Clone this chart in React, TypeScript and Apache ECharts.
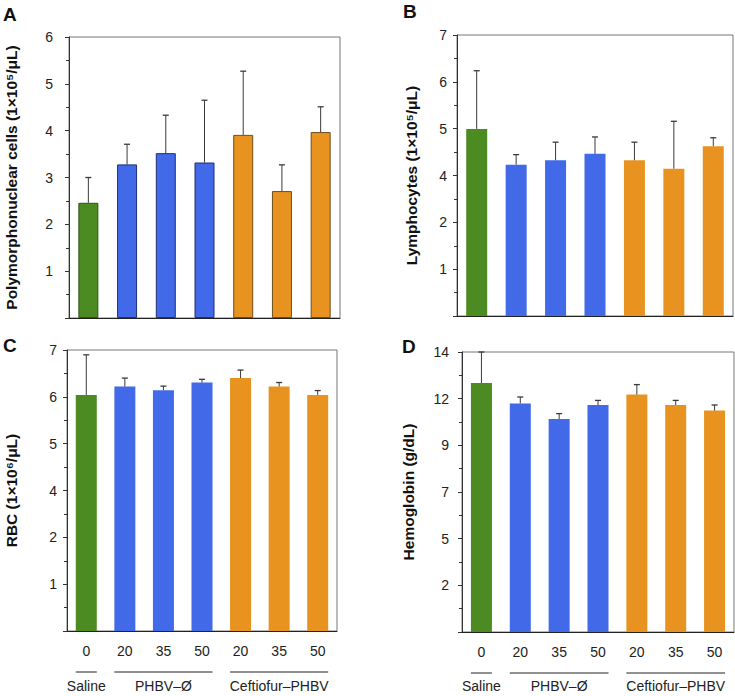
import React, { useEffect, useRef } from "react";
import * as echarts from "echarts";

// ---- data ----
const doseLabels = ["0", "20", "35", "50", "20", "35", "50"];
const barGroup = ["saline", "phbv", "phbv", "phbv", "ceft", "ceft", "ceft"];
const groupLabels = ["Saline", "PHBV–Ø", "Ceftiofur–PHBV"];
const groupStart = [0, 1, 4];
const groupEnd = [0, 3, 6];

const pmnMean = [2.46, 3.28, 3.52, 3.32, 3.91, 2.71, 3.97];
const pmnErr = [0.54, 0.43, 0.81, 1.33, 1.36, 0.56, 0.54];

const lymMean = [4.66, 3.77, 3.88, 4.04, 3.88, 3.67, 4.23];
const lymErr = [1.45, 0.25, 0.45, 0.42, 0.45, 1.18, 0.21];

const rbcMean = [5.88, 6.09, 6.0, 6.19, 6.3, 6.09, 5.88];
const rbcErr = [1.0, 0.21, 0.1, 0.08, 0.2, 0.1, 0.11];

const hbMean = [12.45, 11.43, 10.65, 11.35, 11.87, 11.35, 11.07];
const hbErr = [1.55, 0.32, 0.27, 0.23, 0.5, 0.23, 0.28];

const ticksA = ["", "1", "2", "3", "4", "5", "6"];
const ticksB = ["", "1", "2", "4", "5", "6", "7"];
const ticksC = ["", "1", "2", "4", "5", "6", "7"];
const ticksD = ["", "2", "5", "7", "9", "12", "14"];

const FONT = '"Liberation Sans", Arial, Helvetica, sans-serif';

const fillColors: Record<string, string> = {
  saline: "#4b8b22",
  phbv: "#4169e8",
  ceft: "#e8931f",
};
const borderColors: Record<string, string> = {
  saline: "#2c5512",
  phbv: "#1f2f78",
  ceft: "#6e4c1c",
};

type Panel = {
  letter: string;
  letterPos: [number, number];
  grid: { left: number; top: number; width: number; height: number };
  max: number;
  interval: number;
  ticks: string[];
  name: string;
  nameGap: number;
  labelMargin: number;
  mean: number[];
  err: number[];
  barWidth: number;
  bordered: boolean;
  showX: boolean;
};

const panels: Panel[] = [
  {
    letter: "A",
    letterPos: [3, 5],
    grid: { left: 69, top: 37, width: 271, height: 281 },
    max: 6,
    interval: 1,
    ticks: ticksA,
    name: "Polymorphonuclear cells (1×10⁵/μL)",
    nameGap: 50,
    labelMargin: 16,
    mean: pmnMean,
    err: pmnErr,
    barWidth: 20,
    bordered: true,
    showX: false,
  },
  {
    letter: "B",
    letterPos: [403, 2],
    grid: { left: 457, top: 35, width: 276, height: 281 },
    max: 7,
    interval: 7 / 6,
    ticks: ticksB,
    name: "Lymphocytes (1×10⁵/μL)",
    nameGap: 38,
    labelMargin: 10,
    mean: lymMean,
    err: lymErr,
    barWidth: 21,
    bordered: false,
    showX: false,
  },
  {
    letter: "C",
    letterPos: [3, 336],
    grid: { left: 67, top: 350, width: 270, height: 281 },
    max: 7,
    interval: 7 / 6,
    ticks: ticksC,
    name: "RBC (1×10⁶/μL)",
    nameGap: 48,
    labelMargin: 10,
    mean: rbcMean,
    err: rbcErr,
    barWidth: 21,
    bordered: false,
    showX: true,
  },
  {
    letter: "D",
    letterPos: [402, 337],
    grid: { left: 462, top: 352, width: 272, height: 280 },
    max: 14,
    interval: 14 / 6,
    ticks: ticksD,
    name: "Hemoglobin (g/dL)",
    nameGap: 46,
    labelMargin: 13,
    mean: hbMean,
    err: hbErr,
    barWidth: 21,
    bordered: false,
    showX: true,
  },
];

export default function App() {
  const ref = useRef<HTMLDivElement>(null);

  useEffect(() => {
    if (!ref.current) return;
    const chart = echarts.init(ref.current, undefined, { renderer: "svg" });

    const grids = panels.map((p) => ({
      ...p.grid,
      show: true,
      borderColor: "#777",
      borderWidth: 1,
      backgroundColor: "transparent",
      containLabel: false,
    }));

    const xAxes = panels.map((p, i) => ({
      type: "category",
      gridIndex: i,
      data: doseLabels,
      axisLine: { show: true, lineStyle: { color: "#222", width: 1 } },
      axisTick: { show: false },
      axisLabel: {
        show: p.showX,
        fontSize: 14,
        fontFamily: FONT,
        color: "#222",
        margin: 13,
        interval: 0,
      },
      splitLine: { show: false },
    }));

    const yAxes = panels.map((p, i) => ({
      type: "value",
      gridIndex: i,
      min: 0,
      max: p.max,
      interval: p.interval,
      axisLine: { show: true, lineStyle: { color: "#333", width: 1 } },
      axisTick: { show: true, length: 4, lineStyle: { color: "#333" } },
      minorTick: { show: true, splitNumber: 2, length: 3, lineStyle: { color: "#333" } },
      splitLine: { show: false },
      minorSplitLine: { show: false },
      axisLabel: {
        fontSize: 14,
        fontFamily: FONT,
        color: "#222",
        margin: p.labelMargin,
        formatter: (v: number) => p.ticks[Math.round(v / p.interval)] ?? "",
      },
      name: p.name,
      nameLocation: "middle",
      nameGap: p.nameGap,
      nameTextStyle: {
        fontSize: 15.5,
        fontWeight: "bold",
        fontFamily: FONT,
        color: "#111",
      },
    }));

    const series: any[] = [];
    panels.forEach((p, i) => {
      series.push({
        type: "bar",
        xAxisIndex: i,
        yAxisIndex: i,
        barWidth: p.barWidth,
        z: 2,
        data: p.mean.map((v, k) => ({
          value: v,
          itemStyle: {
            color: fillColors[barGroup[k]],
            borderColor: p.bordered ? borderColors[barGroup[k]] : fillColors[barGroup[k]],
            borderWidth: p.bordered ? 1 : 0,
          },
        })),
      });
      series.push({
        type: "custom",
        xAxisIndex: i,
        yAxisIndex: i,
        z: 3,
        clip: false,
        encode: { x: 0, y: 1 },
        data: p.mean.map((v, k) => [k, v, p.err[k]]),
        renderItem: (params: any, api: any) => {
          const x = api.value(0);
          const m = api.value(1);
          const e = api.value(2);
          const p0 = api.coord([x, m]);
          const p1 = api.coord([x, m + e]);
          return {
            type: "group",
            children: [
              {
                type: "line",
                shape: { x1: p0[0], y1: p0[1], x2: p1[0], y2: p1[1] },
                style: { stroke: "#3a3a3a", lineWidth: 1 },
              },
              {
                type: "line",
                shape: { x1: p1[0] - 3, y1: p1[1], x2: p1[0] + 3, y2: p1[1] },
                style: { stroke: "#3a3a3a", lineWidth: 1.3 },
              },
            ],
          };
        },
      });
    });

    chart.setOption({
      animation: false,
      textStyle: { fontFamily: FONT },
      grid: grids,
      xAxis: xAxes,
      yAxis: yAxes,
      series,
    });

    // annotations: panel letters + group underlines and labels
    const graphics: any[] = [];
    panels.forEach((p, i) => {
      graphics.push({
        type: "text",
        x: p.letterPos[0],
        y: p.letterPos[1],
        style: {
          text: p.letter,
          fontSize: 19,
          fontWeight: "bold",
          fontFamily: FONT,
          fill: "#111",
          textVerticalAlign: "top",
        },
      });
      if (!p.showX) return;
      const bottomY = p.grid.top + p.grid.height;
      groupLabels.forEach((g, k) => {
        const a = chart.convertToPixel({ gridIndex: i } as any, [groupStart[k], 0]) as number[];
        const b = chart.convertToPixel({ gridIndex: i } as any, [groupEnd[k], 0]) as number[];
        const x1 = a[0] - p.barWidth / 2;
        const x2 = b[0] + p.barWidth / 2;
        graphics.push({
          type: "line",
          shape: { x1, y1: bottomY + 41, x2, y2: bottomY + 41 },
          style: { stroke: "#222", lineWidth: 1 },
        });
        graphics.push({
          type: "text",
          x: (x1 + x2) / 2,
          y: 694 - 1,
          style: {
            text: g,
            fontSize: 14,
            fontFamily: FONT,
            fill: "#222",
            textAlign: "center",
            textVerticalAlign: "bottom",
          },
        });
      });
    });
    chart.setOption({ graphic: graphics });

    return () => chart.dispose();
  }, []);

  return (
    <div
      ref={ref}
      style={{ position: "absolute", left: 0, top: 0, width: 735, height: 696 }}
    />
  );
}
